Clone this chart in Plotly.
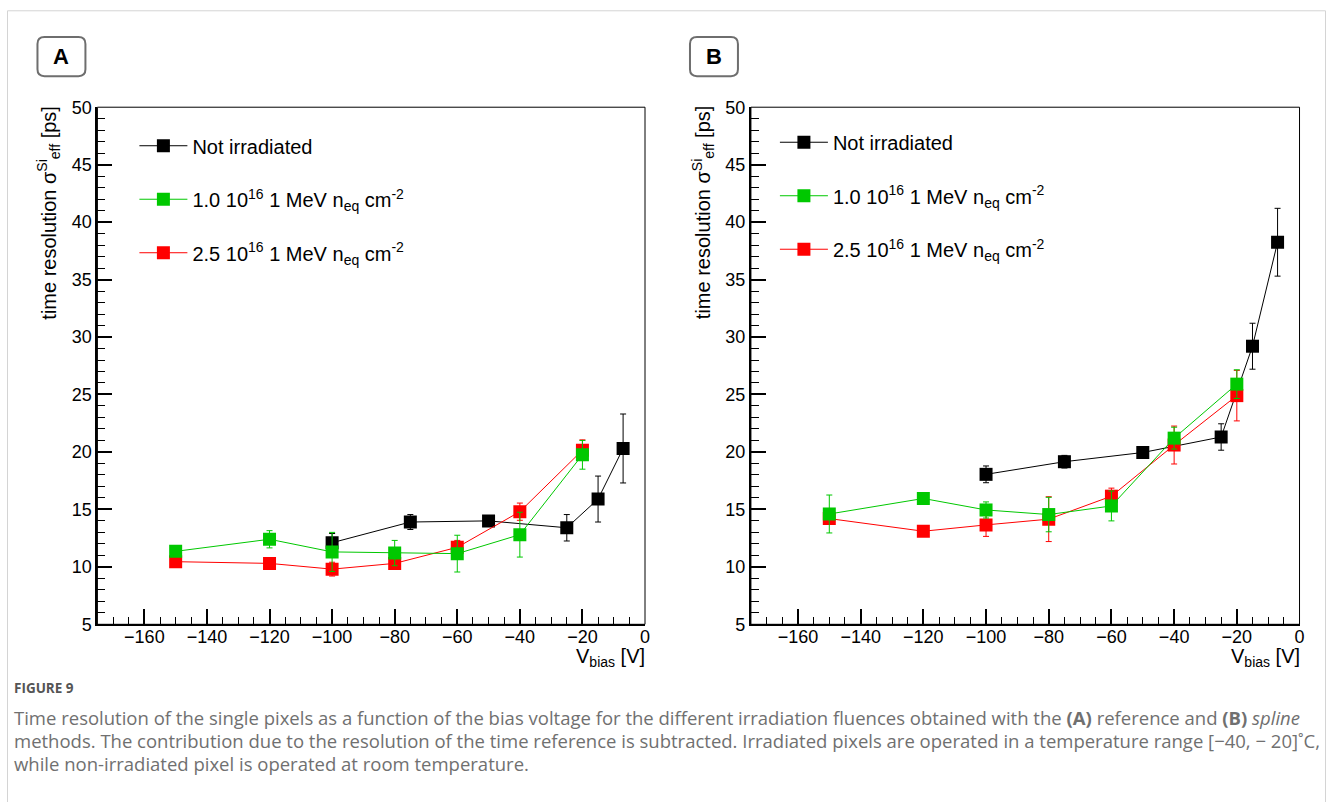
import plotly.graph_objects as go

W, H = 1333, 802

# ---------------- data ----------------
v_black = [-100, -75, -50, -25, -15, -7]
v_irr = [-150, -120, -100, -80, -60, -40, -20]

# Panel A (reference method)
tA_black = [12.1, 13.9, 14.0, 13.4, 15.9, 20.3]
eA_black = [0.8, 0.65, 0.3, 1.15, 2.0, 3.0]
tA_green = [11.35, 12.4, 11.3, 11.2, 11.15, 12.8, 19.75]
eA_green = [0.4, 0.75, 1.7, 1.1, 1.6, 1.95, 1.25]
tA_red = [10.45, 10.3, 9.8, 10.3, 11.7, 14.8, 20.15]
eA_red = [0.3, 0.3, 0.6, 0.4, 0.6, 0.75, 0.9]

# Panel B (spline method)
tB_black = [18.05, 19.15, 19.95, 21.3, 29.2, 38.25]
eB_black = [0.73, 0.55, 0.3, 1.15, 2.0, 2.95]
tB_green = [14.6, 15.95, 14.95, 14.55, 15.3, 21.2, 25.9]
eB_green = [1.65, 0.35, 0.7, 1.5, 1.3, 0.95, 1.25]
tB_red = [14.2, 13.1, 13.65, 14.15, 16.15, 20.6, 24.9]
eB_red = [0.4, 0.3, 1.0, 1.95, 0.7, 1.65, 2.2]

names = ["Not irradiated",
         "1.0 10<sup>16</sup> 1 MeV n<sub>eq</sub> cm<sup>-2</sup>",
         "2.5 10<sup>16</sup> 1 MeV n<sub>eq</sub> cm<sup>-2</sup>"]
colors = ["#000000", "#00c800", "#ff0000"]

FONT = "Liberation Sans, Arial, Helvetica, sans-serif"


# layout helpers: convert a target picture position (px) into paper coords
def px_x(p):
    return ((p + 0.5) / 0.997) / W


def px_y(p):
    return 1 - ((p - 11) / 0.973) / H


xA = [px_x(97), px_x(645)]
xB = [px_x(751), px_x(1300)]
yD = [px_y(624), px_y(108)]

fig = go.Figure()

panels = [
    ("x", "y", "legend", v_black, tA_black, eA_black, tA_green, eA_green, tA_red, eA_red),
    ("x2", "y2", "legend2", v_black, tB_black, eB_black, tB_green, eB_green, tB_red, eB_red),
]

for xa, ya, lg, vb, tb, eb, tg, eg, tr, er in panels:
    series = [
        (0, vb, tb, eb, 1),
        (2, v_irr, tr, er, 3),
        (1, v_irr, tg, eg, 2),
    ]
    for ci, vx, vy, ve, rank in series:
        fig.add_trace(go.Scatter(
            x=vx, y=vy, xaxis=xa, yaxis=ya,
            mode="lines+markers",
            name=names[ci],
            legend=lg, legendrank=rank, legendgroup=lg + str(ci),
            line=dict(color=colors[ci], width=1),
            marker=dict(symbol="square", size=13, color=colors[ci],
                        line=dict(width=0)),
            error_y=dict(type="data", array=ve, visible=True,
                         color=colors[ci], thickness=1, width=3),
        ))

axis_common = dict(
    showgrid=False, zeroline=False, showline=True, linecolor="black",
    linewidth=2, mirror=False, ticks="inside", tickcolor="black",
    tickwidth=1.5, ticklen=15,
    tickfont=dict(family=FONT, size=18, color="black"),
)

xaxis_cfg = dict(axis_common, range=[-175, 0], tick0=0, dtick=20,
                 ticklabelstandoff=-5,
                 minor=dict(dtick=5, tick0=0, ticks="inside", ticklen=7,
                            tickwidth=1, tickcolor="black", showgrid=False))
yaxis_cfg = dict(axis_common, range=[5, 50], tick0=0, dtick=5,
                 minor=dict(dtick=1, tick0=0, ticks="inside", ticklen=8,
                            tickwidth=1, tickcolor="black", showgrid=False))

fig.update_layout(
    width=W, height=H,
    margin=dict(l=0, r=0, t=0, b=0),
    paper_bgcolor="white", plot_bgcolor="white",
    font=dict(family=FONT, color="black"),
    xaxis=dict(xaxis_cfg, domain=xA, anchor="y"),
    yaxis=dict(yaxis_cfg, domain=yD, anchor="x"),
    xaxis2=dict(xaxis_cfg, domain=xB, anchor="y2"),
    yaxis2=dict(yaxis_cfg, domain=yD, anchor="x2"),
    legend=dict(x=px_x(134), y=px_y(127), xanchor="left", yanchor="top",
                bgcolor="rgba(0,0,0,0)", font=dict(family=FONT, size=20),
                tracegroupgap=24.5, itemwidth=48),
    legend2=dict(x=px_x(775), y=px_y(123.5), xanchor="left", yanchor="top",
                 bgcolor="rgba(0,0,0,0)", font=dict(family=FONT, size=20),
                 tracegroupgap=24.5, itemwidth=48),
    showlegend=True,
)

shapes = []
# plot frames (top/right thin lines)
for xr, yr in [("x domain", "y domain"), ("x2 domain", "y2 domain")]:
    shapes.append(dict(type="rect", xref=xr, yref=yr, x0=0, x1=1, y0=0, y1=1,
                       line=dict(color="black", width=1), layer="below"))

# outer figure border
shapes.append(dict(type="rect", xref="paper", yref="paper",
                   x0=px_x(7), x1=px_x(1326), y0=-0.05, y1=0.999,
                   line=dict(color="#d4d4d4", width=1)))


def rounded_box(x0, y0, x1, y1, r):
    rx, ry = r / W, r / H
    X0, X1 = px_x(x0), px_x(x1)
    Y0, Y1 = px_y(y0), px_y(y1)  # Y0 top, Y1 bottom
    return (f"M {X0+rx},{Y0} L {X1-rx},{Y0} Q {X1},{Y0} {X1},{Y0-ry} "
            f"L {X1},{Y1+ry} Q {X1},{Y1} {X1-rx},{Y1} "
            f"L {X0+rx},{Y1} Q {X0},{Y1} {X0},{Y1+ry} "
            f"L {X0},{Y0-ry} Q {X0},{Y0} {X0+rx},{Y0} Z")


for bx0, bx1 in [(37, 85), (690, 738)]:
    shapes.append(dict(type="path", xref="paper", yref="paper",
                       path=rounded_box(bx0, 38, bx1, 77, 7),
                       line=dict(color="#6e6e6e", width=2)))

annotations = []
for lab, cx in [("A", 61), ("B", 714)]:
    annotations.append(dict(text=f"<b>{lab}</b>", x=px_x(cx), y=px_y(57.5),
                            xref="paper", yref="paper", showarrow=False,
                            xanchor="center", yanchor="middle",
                            font=dict(family=FONT, size=22, color="black")))

ytitle = "time resolution σ<sup>Si</sup><sub>eff</sub> [ps]"
for cx in [48, 703]:
    annotations.append(dict(text=ytitle, x=px_x(cx), y=px_y(104),
                            xref="paper", yref="paper", showarrow=False,
                            textangle=-90, xanchor="center", yanchor="top",
                            font=dict(family=FONT, size=20, color="black")))

xtitle = "V<sub>bias</sub> [V]"
for rx in [647, 1302]:
    annotations.append(dict(text=xtitle, x=px_x(rx), y=px_y(643),
                            xref="paper", yref="paper", showarrow=False,
                            xanchor="right", yanchor="top",
                            font=dict(family=FONT, size=20, color="black")))

CAP_FONT = "Open Sans, Noto Sans, sans-serif"
annotations.append(dict(text="<b>FIGURE 9</b>", x=px_x(12), y=px_y(688),
                        xref="paper", yref="paper", showarrow=False,
                        xanchor="left", yanchor="middle",
                        font=dict(family=CAP_FONT, size=13.5, color="#555555")))
cap_lines = [
    "Time resolution of the single pixels as a function of the bias voltage for the different irradiation fluences obtained with the <b>(A)</b> reference and <b>(B)</b> <i>spline</i>",
    "methods. The contribution due to the resolution of the time reference is subtracted. Irradiated pixels are operated in a temperature range [−40, − 20]˚C,",
    "while non-irradiated pixel is operated at room temperature.",
]
for i, line in enumerate(cap_lines):
    annotations.append(dict(text=line, x=px_x(12), y=px_y(717 + 23 * i),
                            xref="paper", yref="paper", showarrow=False,
                            xanchor="left", yanchor="middle",
                            font=dict(family=CAP_FONT, size=18.5, color="#707070")))

fig.update_layout(shapes=shapes, annotations=annotations)

fig.write_html(
    "out.html",
    config={"displayModeBar": False},
    post_script=(
        "document.documentElement.style.margin='0px';"
        "document.body.style.margin='0px';"
        "document.documentElement.style.overflow='hidden';"
        "var gd=document.getElementById('{plot_id}');"
        "gd.style.position='fixed';gd.style.top='0px';gd.style.left='0px';"
    ),
)
